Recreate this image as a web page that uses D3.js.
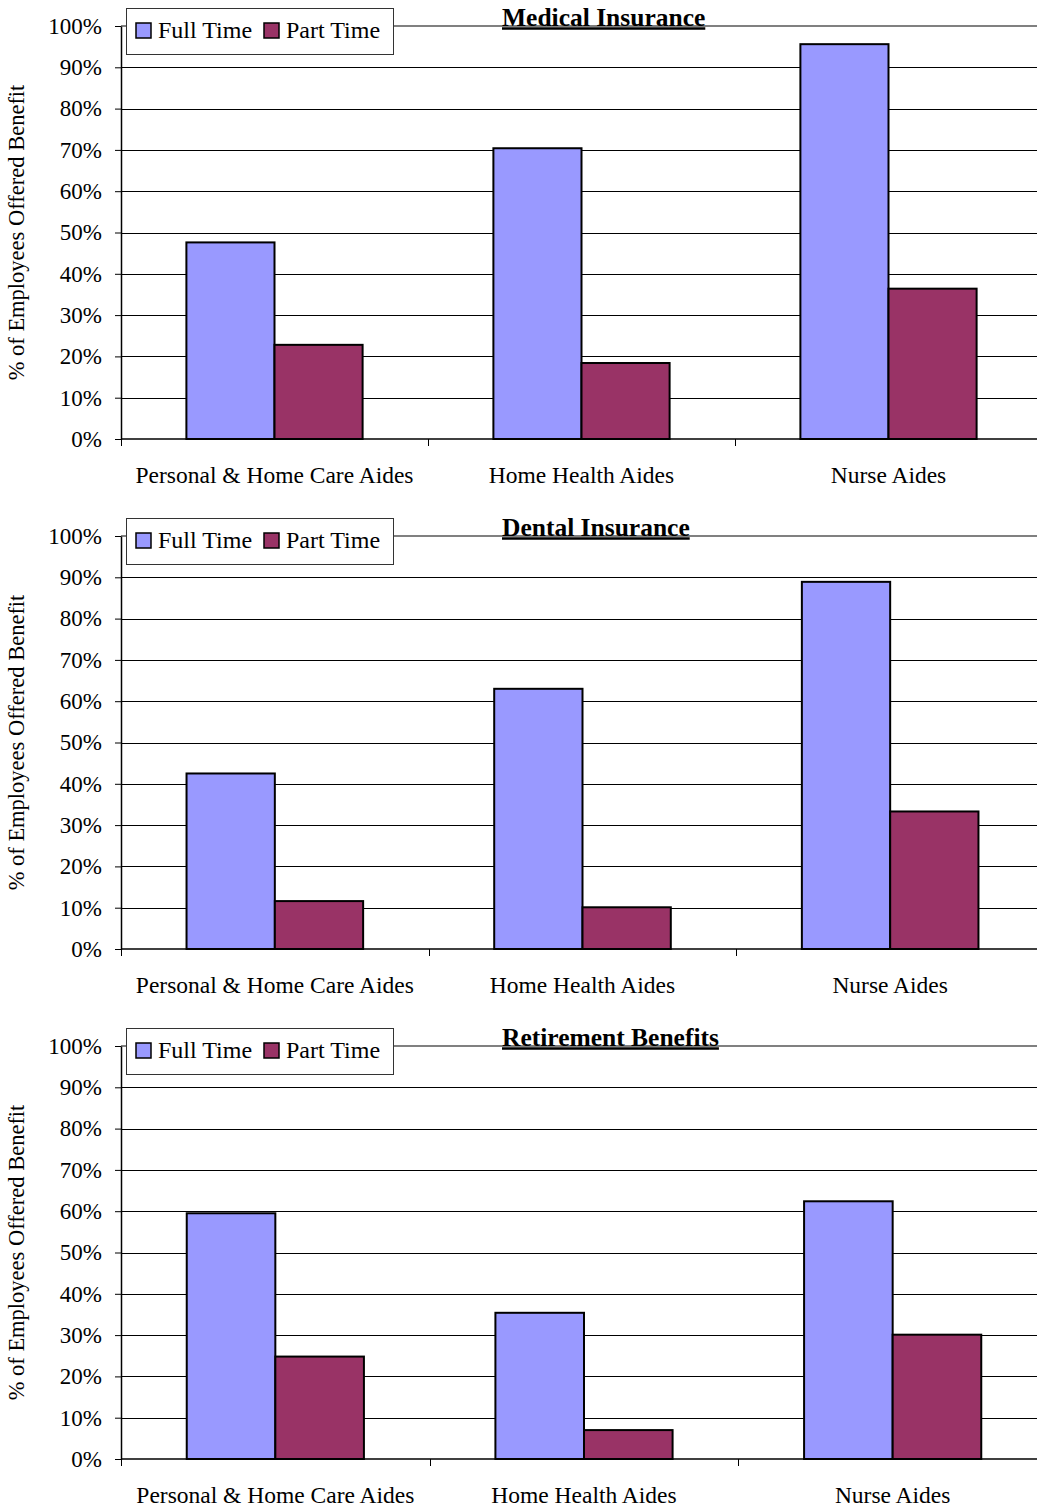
<!DOCTYPE html>
<meta charset="utf-8" />
<style>
  body { margin: 0; background: #fff; }
  text { font-family: "Liberation Serif", "Times New Roman", serif; fill: #000; }
</style>
<body>
<div id="chart"></div>
<script src="https://d3js.org/d3.v7.min.js"></script>
<script>
// data
var categories = ["Personal & Home Care Aides", "Home Health Aides", "Nurse Aides"];
var seriesNames = ["Full Time", "Part Time"];
var titles = ["Medical Insurance", "Dental Insurance", "Retirement Benefits"];
var fullTime = [
  [47.6, 70.4, 95.6],
  [42.5, 63.0, 88.9],
  [59.5, 35.4, 62.4]
];
var partTime = [
  [22.8, 18.4, 36.4],
  [11.6, 10.1, 33.3],
  [24.8, 7.0, 30.1]
];
var yTicks = [0, 10, 20, 30, 40, 50, 60, 70, 80, 90, 100];
var colors = ["#9999ff", "#993366"];

var W = 1037, H = 1508;
var svg = d3.select("#chart").append("svg")
  .attr("width", W).attr("height", H);

var panelTop = 26, panelStep = 510, plotH = 413;
var plotLeft = 121;
var plotRights = [1042, 1044, 1047];

titles.forEach(function(title, p) {
  var g = svg.append("g")
    .attr("transform", "translate(0," + (panelTop + p * panelStep) + ")");

  var y = d3.scaleLinear().domain([0, 100]).range([plotH, 0]);
  var x = d3.scaleBand().domain(categories).range([plotLeft, plotRights[p]]).padding(0);
  var barW = x.bandwidth() * 0.287;

  // gridlines
  g.append("g").selectAll("line")
    .data(yTicks.filter(function(t) { return t > 0 && t < 100; }))
    .join("line")
    .attr("x1", plotLeft).attr("x2", W)
    .attr("y1", function(d) { return Math.round(y(d)) + 0.5; })
    .attr("y2", function(d) { return Math.round(y(d)) + 0.5; })
    .attr("stroke", "#000").attr("stroke-width", 1);

  // top border of plot area (grey)
  g.append("line")
    .attr("x1", plotLeft).attr("x2", W)
    .attr("y1", y(100)).attr("y2", y(100))
    .attr("stroke", "#808080").attr("stroke-width", 2);

  // bars
  var data = categories.map(function(c, i) {
    return [
      { cat: c, s: 0, v: fullTime[p][i] },
      { cat: c, s: 1, v: partTime[p][i] }
    ];
  }).flat();

  g.append("g").selectAll("rect")
    .data(data)
    .join("rect")
    .attr("x", function(d) { return x(d.cat) + x.bandwidth() / 2 - barW + d.s * barW; })
    .attr("y", function(d) { return y(d.v); })
    .attr("width", barW)
    .attr("height", function(d) { return y(0) - y(d.v); })
    .attr("fill", function(d) { return colors[d.s]; })
    .attr("stroke", "#000").attr("stroke-width", 2);

  // y axis
  var yAxis = g.append("g")
    .attr("transform", "translate(" + plotLeft + ",0)")
    .call(d3.axisLeft(y).tickValues(yTicks).tickSize(6).tickSizeOuter(0)
      .tickFormat(function(d) { return d + "%"; }));
  yAxis.select(".domain").attr("stroke", "#000").attr("stroke-width", 1.5);
  yAxis.selectAll(".tick line").attr("stroke", "#000");
  yAxis.selectAll(".tick text")
    .attr("x", -19)
    .style("font-family", "Liberation Serif, serif")
    .style("font-size", "23px");

  // x axis baseline and category ticks
  g.append("line")
    .attr("x1", plotLeft).attr("x2", W)
    .attr("y1", y(0)).attr("y2", y(0))
    .attr("stroke", "#000").attr("stroke-width", 1.5);
  var bounds = categories.map(function(c) { return x(c); });
  g.append("g").selectAll("line")
    .data(bounds)
    .join("line")
    .attr("x1", function(d) { return Math.round(d) + 0.5; })
    .attr("x2", function(d) { return Math.round(d) + 0.5; })
    .attr("y1", y(0)).attr("y2", y(0) + 7)
    .attr("stroke", "#000");

  g.append("g").selectAll("text")
    .data(categories)
    .join("text")
    .attr("x", function(d) { return x(d) + x.bandwidth() / 2; })
    .attr("y", y(0) + 44)
    .attr("text-anchor", "middle")
    .style("font-size", "23.5px")
    .text(function(d) { return d; });

  // y axis title
  g.append("text")
    .attr("transform", "translate(24," + (plotH / 2 + 0) + ") rotate(-90)")
    .attr("text-anchor", "middle")
    .style("font-size", "22.5px")
    .text("% of Employees Offered Benefit");

  // title
  var t = g.append("text")
    .attr("x", 502).attr("y", 0)
    .style("font-size", "25.5px")
    .style("font-weight", "bold")
    .text(title);
  var tw = t.node().getComputedTextLength();
  g.append("line")
    .attr("x1", 502).attr("x2", 502 + tw)
    .attr("y1", 2.5).attr("y2", 2.5)
    .attr("stroke", "#000").attr("stroke-width", 2.5);

  // legend
  var lg = g.append("g").attr("transform", "translate(126,-18)");
  lg.append("rect")
    .attr("x", 0.5).attr("y", 0.5)
    .attr("width", 267).attr("height", 46)
    .attr("fill", "#fff").attr("stroke", "#333").attr("stroke-width", 1);
  var legX = [10, 138];
  seriesNames.forEach(function(name, i) {
    lg.append("rect")
      .attr("x", legX[i]).attr("y", 15)
      .attr("width", 15).attr("height", 15)
      .attr("fill", colors[i]).attr("stroke", "#000").attr("stroke-width", 1.5);
    lg.append("text")
      .attr("x", legX[i] + 22).attr("y", 30)
      .style("font-size", "24px")
      .text(name);
  });
});
</script>
</body>
